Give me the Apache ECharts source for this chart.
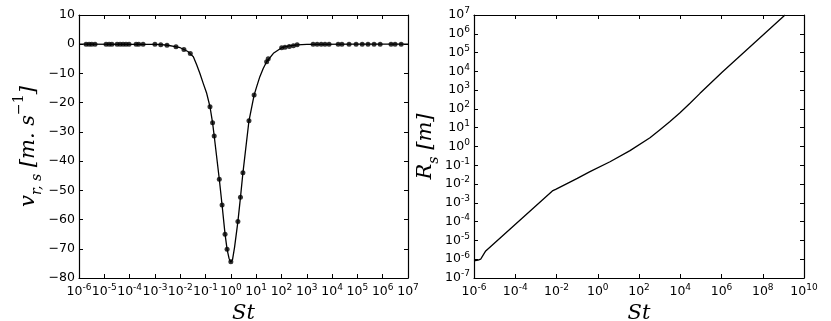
<!DOCTYPE html>
<html>
<head>
<meta charset="utf-8">
<script src="https://cdn.jsdelivr.net/npm/echarts@6/dist/echarts.min.js"></script>
<style>
  html, body { margin: 0; padding: 0; background: #fff; }
  #chart { width: 831px; height: 321px; }
</style>
</head>
<body>
<div id="chart"></div>
<script>
// left panel: measured points (dots)
var dotSt = [1.9e-6, 2.5e-6, 3.2e-6, 4.3e-6, 1.17e-5, 1.55e-5, 2.0e-5, 3.2e-5, 4.2e-5, 5.5e-5, 7.2e-5, 9.5e-5,
  1.8e-4, 2.3e-4, 3.4e-4, 1e-3, 1.7e-3, 3.0e-3, 6.8e-3, 0.014, 0.025,
  0.15, 0.19, 0.22, 0.35, 0.45, 0.59, 0.71, 1.0,
  1.9, 2.4, 3.0, 5.2, 8.3, 26, 30, 102, 138, 204, 295, 417,
  1780, 2570, 3720, 5250, 7590, 17400, 24500, 46800, 89100, 155000, 263000, 457000, 794000,
  2.14e6, 3.09e6, 5.37e6];
var dotV = [0, 0, 0, 0, 0, 0, 0, 0, 0, 0, 0, 0,
  0, 0, 0, -0.05, -0.15, -0.35, -0.85, -1.8, -3.2,
  -21.4, -26.9, -31.4, -46.2, -55.0, -65.0, -70.2, -74.4,
  -60.7, -52.4, -44.0, -26.2, -17.4, -6.0, -5.0, -1.2, -1.0, -0.8, -0.5, -0.2,
  0, 0, 0, 0, 0, 0, 0, 0, 0, 0, 0, 0, 0,
  0, 0, 0];

// left panel: continuous curve
var curveSt = [1e-6, 1e-4, 1e-3, 1.8e-3, 3.2e-3, 6.3e-3, 0.01, 0.014, 0.02, 0.025, 0.033, 0.045, 0.06, 0.081, 0.111,
  0.15, 0.19, 0.22, 0.35, 0.45, 0.59, 0.71, 0.85, 1.0, 1.17, 1.4, 1.9, 2.4, 3.0, 5.2, 8.3, 10.5, 14, 19, 26, 48,
  102, 200, 417, 1000, 1e5, 1e7];
var curveV = [0, -0.02, -0.06, -0.15, -0.35, -0.8, -1.2, -1.8, -2.5, -3.3, -4.3, -7.1, -10.0, -13.4, -16.8,
  -21.4, -26.9, -31.4, -46.2, -55.0, -65.0, -70.2, -73.3, -74.6, -73.6, -69.5, -60.7, -52.4, -44.0, -26.2, -17.4, -14.5, -11.1, -8.3, -6.0, -3.1,
  -1.2, -0.6, -0.2, -0.05, 0, 0];

// right panel: Rs vs St
var rsSt = [1e-6, 1.58e-6, 2.1e-6, 2.5e-6, 3.7e-6, 6.3e-3, 9.1e-3, 0.102, 0.42, 3.93, 36.6, 341, 1042, 3184,
  9727, 29720, 90780, 1.1e6, 1.2e9];
var rsR = [8.1e-7, 8.9e-7, 1.0e-6, 1.38e-6, 2.75e-6, 4.3e-3, 5.2e-3, 0.020, 0.0457, 0.155, 0.603, 2.9, 7.9, 21.5,
  63.1, 200, 676, 9330, 1e7];

// tick ranges
var leftXMin = 1e-6, leftXMax = 1e7;
var leftYMin = -80, leftYMax = 10;
var rightXMin = 1e-6, rightXMax = 1e10;
var rightYMin = 1e-7, rightYMax = 1e7;

function zip(a, b) {
  return a.map(function (v, i) { return [v, b[i]]; });
}

var tickFont = 'DejaVu Sans';
var mathFont = 'DejaVu Serif';

// 10^n labels
function powLabel(v) {
  var e = Math.round(Math.log10(v));
  return '{b|10}{s|' + e + '}';
}
var powRich = {
  b: { fontSize: 12.5, lineHeight: 13, verticalAlign: 'bottom', fontFamily: tickFont, color: '#000' },
  s: { fontSize: 9, lineHeight: 9, verticalAlign: 'bottom', padding: [0, 0, 6, 0], fontFamily: tickFont, color: '#000' }
};

function frameAxis(extra) {
  var base = {
    axisLine: { show: true, onZero: false, lineStyle: { color: '#000', width: 1.2 } },
    axisTick: { show: true, inside: true, length: 4, lineStyle: { color: '#000' } },
    splitLine: { show: false },
    axisLabel: { show: false }
  };
  return Object.assign(base, extra);
}

var chart = echarts.init(document.getElementById('chart'));

var option = {
  animation: false,
  grid: [
    { left: 79, top: 15, width: 329, height: 263, containLabel: false, outerBoundsMode: 'none' },
    { left: 474, top: 15, width: 330, height: 263, containLabel: false, outerBoundsMode: 'none' }
  ],
  xAxis: [
    frameAxis({
      gridIndex: 0, type: 'log', logBase: 10, min: leftXMin, max: leftXMax, interval: 1, position: 'bottom',
      axisLabel: { show: true, color: '#000', fontFamily: tickFont, fontSize: 12, margin: 7, formatter: powLabel, rich: powRich },
      name: 'St', nameLocation: 'middle', nameGap: 12,
      nameTextStyle: { fontFamily: mathFont, fontStyle: 'italic', fontSize: 21, color: '#000' }
    }),
    frameAxis({ gridIndex: 0, type: 'log', logBase: 10, min: leftXMin, max: leftXMax, interval: 1, position: 'top' }),
    frameAxis({
      gridIndex: 1, type: 'log', logBase: 10, min: rightXMin, max: rightXMax, interval: 2, position: 'bottom',
      axisLabel: { show: true, color: '#000', fontFamily: tickFont, fontSize: 12, margin: 7, formatter: powLabel, rich: powRich },
      name: 'St', nameLocation: 'middle', nameGap: 12,
      nameTextStyle: { fontFamily: mathFont, fontStyle: 'italic', fontSize: 21, color: '#000' }
    }),
    frameAxis({ gridIndex: 1, type: 'log', logBase: 10, min: rightXMin, max: rightXMax, interval: 2, position: 'top' })
  ],
  yAxis: [
    frameAxis({
      gridIndex: 0, type: 'value', min: leftYMin, max: leftYMax, interval: 10, position: 'left',
      axisLabel: {
        show: true, color: '#000', fontFamily: tickFont, fontSize: 12.5, margin: 4,
        formatter: function (v) { return String(v).replace('-', '\u2212'); }
      },
      name: '{i|v}{sub|r, s}{i| [m. s}{sup|\u22121}{i|]}',
      nameLocation: 'middle', nameRotate: 90, nameGap: 30,
      nameTextStyle: {
        color: '#000',
        rich: {
          i: { fontFamily: mathFont, fontStyle: 'italic', fontSize: 21, lineHeight: 24, color: '#000' },
          sub: { fontFamily: mathFont, fontStyle: 'italic', fontSize: 14, verticalAlign: 'bottom', lineHeight: 14, padding: [0, 0, -4, 0], color: '#000' },
          sup: { fontFamily: mathFont, fontSize: 14, verticalAlign: 'top', lineHeight: 14, padding: [-4, 0, 0, 0], color: '#000' }
        }
      }
    }),
    frameAxis({ gridIndex: 0, type: 'value', min: leftYMin, max: leftYMax, interval: 10, position: 'right' }),
    frameAxis({
      gridIndex: 1, type: 'log', logBase: 10, min: rightYMin, max: rightYMax, interval: 1, position: 'left',
      axisLabel: { show: true, color: '#000', fontFamily: tickFont, fontSize: 12, margin: 4, formatter: powLabel, rich: powRich },
      name: '{i|R}{sub|s}{i| [m]}',
      nameLocation: 'middle', nameRotate: 90, nameGap: 34,
      nameTextStyle: {
        color: '#000',
        rich: {
          i: { fontFamily: mathFont, fontStyle: 'italic', fontSize: 21, lineHeight: 24, color: '#000' },
          sub: { fontFamily: mathFont, fontStyle: 'italic', fontSize: 14, verticalAlign: 'bottom', lineHeight: 14, padding: [0, 0, -4, 0], color: '#000' }
        }
      }
    }),
    frameAxis({ gridIndex: 1, type: 'log', logBase: 10, min: rightYMin, max: rightYMax, interval: 1, position: 'right' })
  ],
  series: [
    {
      type: 'line', xAxisIndex: 0, yAxisIndex: 0,
      data: zip(curveSt, curveV),
      showSymbol: false, smooth: false,
      lineStyle: { color: '#000', width: 1.3 }
    },
    {
      type: 'scatter', xAxisIndex: 0, yAxisIndex: 0,
      data: zip(dotSt, dotV),
      symbol: 'circle', symbolSize: 5,
      itemStyle: { color: '#000' }
    },
    {
      type: 'line', xAxisIndex: 2, yAxisIndex: 2,
      data: zip(rsSt, rsR),
      showSymbol: false, smooth: false,
      lineStyle: { color: '#000', width: 1.3 }
    }
  ]
};

chart.setOption(option);
</script>
</body>
</html>
